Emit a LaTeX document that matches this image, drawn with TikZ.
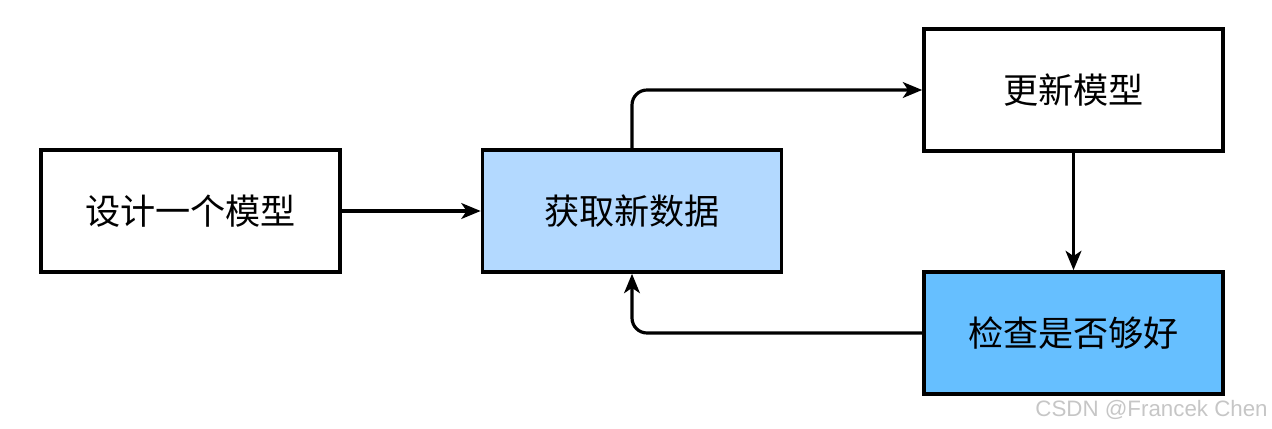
\documentclass[tikz,border=0pt]{standalone}
\usepackage{fontspec}
\setmainfont{Noto Sans CJK SC}
\newfontfamily\markfont{Liberation Sans}
\usetikzlibrary{positioning,arrows.meta}

\definecolor{lightblue}{RGB}{179,217,255}
\definecolor{midblue}{RGB}{102,191,255}

\tikzset{
  box/.style={draw, line width=2.1pt, minimum width=5.98cm, minimum height=2.44cm,
    font=\fontsize{20}{24}\selectfont},
  arr/.style={line width=1.8pt, -{Stealth[length=11pt,width=9pt,inset=3pt]}, rounded corners=0.3cm}
}

\begin{document}
\begin{tikzpicture}

    \useasboundingbox (0,0) rectangle (25.44,-8.58);

    \node[box] (design) at (3.81,-4.22) {设计一个模型};
    \node[box, fill=lightblue] (fetch) at (12.64,-4.22) {获取新数据};
    \node[box] (update) at (21.47,-1.8) {更新模型};
    \node[box, fill=midblue] (check) at (21.47,-6.66) {检查是否够好};

    \draw[arr] (design) -- (fetch);
    \draw[arr] (fetch.north) |- (update.west);
    \draw[arr] (update) -- (check);
    \draw[arr] (check.west) -| (fetch.south);

    \node[anchor=base east, text=gray!45, font=\markfont\fontsize{12.7}{14}\selectfont, inner sep=0pt]
      (mark) at (25.36,-8.32) {CSDN @Francek Chen};

  \end{tikzpicture}
\end{document}
